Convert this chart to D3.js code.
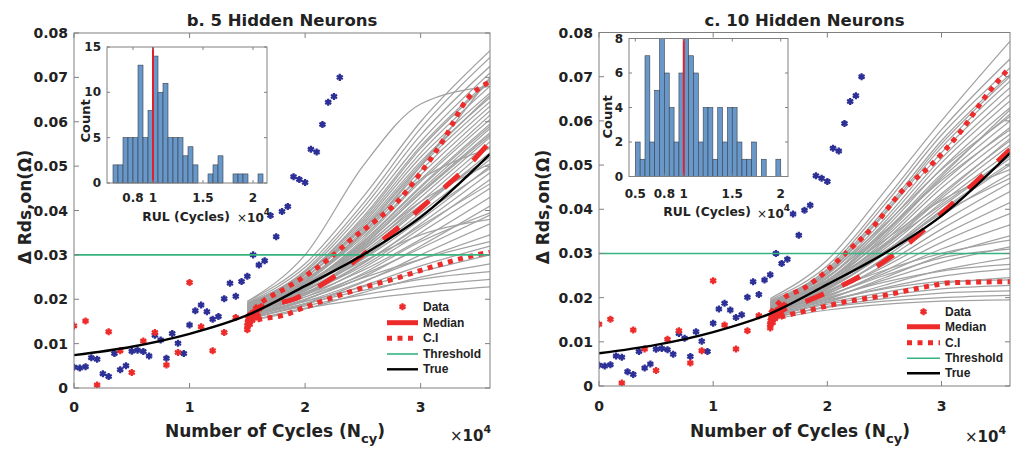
<!DOCTYPE html>
<html>
<head>
<meta charset="utf-8">
<script src="https://cdn.jsdelivr.net/npm/d3@7"></script>
<style>
  body { margin: 0; background: #fff; }
  text { font-family: "DejaVu Sans", sans-serif; font-weight: bold; fill: #222; }
  .legend text { font-family: "Liberation Sans", Arial, sans-serif; }
</style>
</head>
<body>
<div id="chart"></div>
<script>
// cycles are in units of 1e4
const xTicks = [0, 1, 2, 3];
const yTicks = [0, 0.01, 0.02, 0.03, 0.04, 0.05, 0.06, 0.07, 0.08];
const threshold = 0.03;

// blue points (not in legend)
const bluePoints = [
  [0, 0.0047], [0.05, 0.0045], [0.1, 0.0048], [0.15, 0.0068], [0.2, 0.0065], [0.25, 0.0032],
  [0.3, 0.0026], [0.35, 0.0078], [0.4, 0.0041], [0.45, 0.0050], [0.5, 0.0083], [0.55, 0.0085],
  [0.6, 0.0082], [0.65, 0.0072], [0.7, 0.0119], [0.75, 0.0108], [0.8, 0.0067], [0.85, 0.0123],
  [0.9, 0.0101], [0.95, 0.0078], [1.0, 0.0142], [1.05, 0.0174], [1.1, 0.0187], [1.15, 0.0172],
  [1.2, 0.0155], [1.25, 0.0161], [1.3, 0.0201], [1.35, 0.0236], [1.4, 0.0207], [1.45, 0.0240],
  [1.5, 0.0252], [1.55, 0.0300], [1.6, 0.0277], [1.65, 0.0287], [1.7, 0.0389], [1.75, 0.0341],
  [1.8, 0.0398], [1.85, 0.0409], [1.9, 0.0476], [1.95, 0.0470], [2.0, 0.0463], [2.05, 0.0538],
  [2.1, 0.0532], [2.15, 0.0594], [2.2, 0.0644], [2.25, 0.0657], [2.3, 0.0700]
];

// red "Data" points
const dataPoints = [
  [0, 0.0140], [0.1, 0.0151], [0.2, 0.0007], [0.3, 0.0127], [0.4, 0.0084], [0.5, 0.0035],
  [0.6, 0.0106], [0.7, 0.0125], [0.8, 0.0052], [0.9, 0.0080], [1.0, 0.0238], [1.1, 0.0138],
  [1.2, 0.0084], [1.3, 0.0125], [1.4, 0.0159],
  [1.50, 0.0131], [1.50, 0.0140], [1.505, 0.0148], [1.51, 0.0156], [1.52, 0.0143], [1.53, 0.0163],
  [1.54, 0.0152], [1.55, 0.0170], [1.56, 0.0158], [1.57, 0.0166], [1.58, 0.0174], [1.59, 0.0162],
  [1.60, 0.0178], [1.62, 0.0183]
];

const truePoints = [
  [0, 0.0074], [0.5, 0.0093], [1.0, 0.0122], [1.5, 0.0164], [2.0, 0.0230],
  [2.5, 0.0300], [3.0, 0.0385], [3.6, 0.0527]
];

// panel b (5 hidden neurons)
const median5 = [[1.5, 0.0155], [1.6, 0.0180], [1.9, 0.0200], [2.2, 0.0242], [2.5, 0.0300],
  [2.8, 0.0360], [3.1, 0.0428], [3.4, 0.0498], [3.6, 0.0555]];
const upper5 = [[1.5, 0.0160], [1.6, 0.0188], [1.8, 0.0220], [2.0, 0.0252], [2.2, 0.0290],
  [2.4, 0.0335], [2.6, 0.0375], [2.8, 0.0420], [3.0, 0.0485], [3.2, 0.0560], [3.4, 0.0650], [3.6, 0.0690]];
const lower5 = [[1.5, 0.0145], [1.6, 0.0154], [1.8, 0.0163], [2.0, 0.0182], [2.25, 0.0205],
  [2.5, 0.0226], [2.8, 0.0248], [3.1, 0.0273], [3.4, 0.0295], [3.6, 0.0306]];

// panel c (10 hidden neurons)
const median10 = [[1.5, 0.0150], [1.6, 0.0170], [1.8, 0.0190], [2.0, 0.0212], [2.3, 0.0250],
  [2.65, 0.0310], [3.0, 0.0390], [3.3, 0.0462], [3.6, 0.0535]];
const upper10 = [[1.5, 0.0165], [1.6, 0.0195], [1.8, 0.0222], [2.0, 0.0262], [2.15, 0.0298],
  [2.4, 0.0360], [2.65, 0.0440], [2.9, 0.0498], [3.15, 0.0570], [3.4, 0.0660], [3.6, 0.0722]];
const lower10 = [[1.5, 0.0148], [1.65, 0.0160], [1.85, 0.0172], [2.15, 0.0190], [2.5, 0.0205],
  [2.85, 0.0224], [3.1, 0.0234], [3.6, 0.0236]];

// grey trajectories, values at these cycles
const greyKnots = [1.5, 2.0, 2.5, 3.0, 3.6];
const grey5 = [
  [0.0150, 0.0180, 0.0200, 0.0215, 0.0228], [0.0155, 0.0185, 0.0210, 0.0230, 0.0245],
  [0.0160, 0.0190, 0.0220, 0.0245, 0.0262], [0.0150, 0.0178, 0.0215, 0.0250, 0.0280],
  [0.0165, 0.0195, 0.0228, 0.0262, 0.0300], [0.0158, 0.0188, 0.0230, 0.0275, 0.0320],
  [0.0162, 0.0195, 0.0240, 0.0290, 0.0345], [0.0155, 0.0190, 0.0238, 0.0300, 0.0370],
  [0.0168, 0.0205, 0.0255, 0.0315, 0.0390], [0.0160, 0.0200, 0.0250, 0.0320, 0.0410],
  [0.0170, 0.0210, 0.0265, 0.0335, 0.0430], [0.0165, 0.0205, 0.0270, 0.0350, 0.0450],
  [0.0172, 0.0215, 0.0275, 0.0360, 0.0470], [0.0160, 0.0210, 0.0280, 0.0370, 0.0485],
  [0.0168, 0.0220, 0.0290, 0.0380, 0.0500], [0.0175, 0.0222, 0.0295, 0.0395, 0.0515],
  [0.0165, 0.0218, 0.0300, 0.0405, 0.0530], [0.0170, 0.0225, 0.0305, 0.0410, 0.0545],
  [0.0178, 0.0230, 0.0310, 0.0420, 0.0555], [0.0172, 0.0228, 0.0315, 0.0430, 0.0565],
  [0.0168, 0.0225, 0.0320, 0.0440, 0.0575], [0.0180, 0.0235, 0.0325, 0.0445, 0.0585],
  [0.0175, 0.0232, 0.0330, 0.0455, 0.0595], [0.0170, 0.0230, 0.0335, 0.0465, 0.0605],
  [0.0182, 0.0240, 0.0340, 0.0470, 0.0615], [0.0178, 0.0238, 0.0345, 0.0480, 0.0625],
  [0.0185, 0.0245, 0.0350, 0.0490, 0.0635], [0.0175, 0.0240, 0.0355, 0.0500, 0.0645],
  [0.0185, 0.0250, 0.0365, 0.0510, 0.0655], [0.0180, 0.0248, 0.0370, 0.0520, 0.0665],
  [0.0188, 0.0255, 0.0375, 0.0530, 0.0680], [0.0182, 0.0255, 0.0385, 0.0545, 0.0695],
  [0.0190, 0.0262, 0.0395, 0.0555, 0.0710], [0.0185, 0.0265, 0.0405, 0.0570, 0.0725],
  [0.0192, 0.0272, 0.0415, 0.0585, 0.0745], [0.0195, 0.0300, 0.0500, 0.0640, 0.0680],
  [0.0188, 0.0258, 0.0360, 0.0470, 0.0540], [0.0176, 0.0232, 0.0318, 0.0420, 0.0505],
  [0.0166, 0.0212, 0.0282, 0.0365, 0.0460], [0.0158, 0.0198, 0.0258, 0.0330, 0.0395],
  [0.0180, 0.0242, 0.0348, 0.0500, 0.0700], [0.0170, 0.0220, 0.0285, 0.0345, 0.0380],
  [0.0163, 0.0200, 0.0248, 0.0290, 0.0330], [0.0195, 0.0280, 0.0430, 0.0600, 0.0760],
  [0.0172, 0.0226, 0.0312, 0.0412, 0.0520], [0.0180, 0.0236, 0.0328, 0.0452, 0.0590],
  [0.0186, 0.0250, 0.0360, 0.0505, 0.0660], [0.0168, 0.0214, 0.0292, 0.0388, 0.0495],
  [0.0176, 0.0234, 0.0322, 0.0438, 0.0570], [0.0190, 0.0258, 0.0380, 0.0540, 0.0690]
];
const grey10 = [
  [0.0150, 0.0172, 0.0185, 0.0192, 0.0195], [0.0155, 0.0178, 0.0192, 0.0200, 0.0205],
  [0.0152, 0.0180, 0.0198, 0.0210, 0.0215], [0.0160, 0.0185, 0.0205, 0.0220, 0.0228],
  [0.0158, 0.0188, 0.0212, 0.0232, 0.0245], [0.0162, 0.0192, 0.0222, 0.0248, 0.0265],
  [0.0155, 0.0190, 0.0228, 0.0262, 0.0290], [0.0165, 0.0198, 0.0240, 0.0280, 0.0315],
  [0.0160, 0.0196, 0.0245, 0.0295, 0.0340], [0.0168, 0.0205, 0.0255, 0.0310, 0.0365],
  [0.0162, 0.0202, 0.0260, 0.0325, 0.0390], [0.0170, 0.0210, 0.0270, 0.0340, 0.0415],
  [0.0165, 0.0208, 0.0275, 0.0355, 0.0440], [0.0172, 0.0215, 0.0285, 0.0370, 0.0460],
  [0.0168, 0.0212, 0.0290, 0.0385, 0.0480], [0.0175, 0.0220, 0.0298, 0.0395, 0.0500],
  [0.0170, 0.0218, 0.0302, 0.0405, 0.0515], [0.0178, 0.0225, 0.0310, 0.0415, 0.0530],
  [0.0172, 0.0222, 0.0315, 0.0425, 0.0545], [0.0180, 0.0230, 0.0322, 0.0435, 0.0555],
  [0.0175, 0.0228, 0.0328, 0.0448, 0.0570], [0.0182, 0.0235, 0.0335, 0.0458, 0.0585],
  [0.0178, 0.0232, 0.0340, 0.0470, 0.0600], [0.0185, 0.0240, 0.0348, 0.0480, 0.0615],
  [0.0180, 0.0238, 0.0355, 0.0492, 0.0630], [0.0188, 0.0245, 0.0362, 0.0505, 0.0645],
  [0.0182, 0.0245, 0.0370, 0.0515, 0.0660], [0.0190, 0.0252, 0.0378, 0.0528, 0.0675],
  [0.0185, 0.0255, 0.0388, 0.0540, 0.0690], [0.0192, 0.0262, 0.0398, 0.0555, 0.0705],
  [0.0188, 0.0265, 0.0410, 0.0568, 0.0720], [0.0195, 0.0272, 0.0420, 0.0580, 0.0740],
  [0.0198, 0.0285, 0.0440, 0.0600, 0.0780], [0.0175, 0.0215, 0.0262, 0.0300, 0.0330],
  [0.0168, 0.0200, 0.0235, 0.0260, 0.0275], [0.0185, 0.0240, 0.0330, 0.0420, 0.0490],
  [0.0178, 0.0228, 0.0305, 0.0390, 0.0470], [0.0190, 0.0255, 0.0365, 0.0490, 0.0610],
  [0.0170, 0.0205, 0.0250, 0.0290, 0.0310], [0.0180, 0.0235, 0.0320, 0.0410, 0.0520],
  [0.0186, 0.0248, 0.0350, 0.0465, 0.0580], [0.0165, 0.0195, 0.0220, 0.0236, 0.0240],
  [0.0174, 0.0222, 0.0300, 0.0398, 0.0505], [0.0183, 0.0238, 0.0345, 0.0475, 0.0625],
  [0.0177, 0.0226, 0.0318, 0.0430, 0.0560], [0.0189, 0.0258, 0.0392, 0.0548, 0.0700]
];

// RUL histograms (bin width 0.05e4)
const binWidth = 0.05;
const hist5Start = 0.60;
const hist5Counts = [2, 2, 5, 5, 5, 13, 5, 8, 14, 10, 11, 5, 5, 5, 3, 4, 2, 0, 0, 1, 2, 3, 0, 0, 1, 1, 1, 0, 0, 1];
const hist10Start = 0.50;
const hist10Counts = [2, 1, 7, 2, 5, 8, 6, 4, 2, 6, 8, 7, 6, 2, 4, 4, 1, 4, 2, 4, 4, 2, 1, 1, 2, 0, 1, 0, 0, 1];
const rulTrue = 1.0;

const legendLabels = ['Data', 'Median', 'C.I', 'Threshold', 'True'];

const RED = '#ee2b2b', BLUE = '#2b2f96', GREEN = '#35b47f', GREY = '#a2a2a2', AXIS = '#808080';

const svg = d3.select('#chart').append('svg')
    .attr('width', 1011)
    .attr('height', 452);

const marker = d3.symbol().type(d3.symbolAsterisk || d3.symbolCross).size(34);

function drawPanel(cfg) {
    const x = d3.scaleLinear().domain([0, 3.6]).range([cfg.x0, cfg.x1]);
    const y = d3.scaleLinear().domain([0, 0.08]).range([cfg.y1, cfg.y0]);

    svg.append('clipPath').attr('id', 'clip' + cfg.id).append('rect')
        .attr('x', cfg.x0).attr('y', cfg.y0)
        .attr('width', cfg.x1 - cfg.x0).attr('height', cfg.y1 - cfg.y0);

    const plot = svg.append('g').attr('clip-path', 'url(#clip' + cfg.id + ')');
    const line = d3.line().x(d => x(d[0])).y(d => y(d[1])).curve(d3.curveMonotoneX);

    // grey trajectories
    plot.selectAll('.traj').data(cfg.grey).enter().append('path')
        .attr('d', v => line(greyKnots.map((k, i) => [k, v[i]])))
        .attr('fill', 'none').attr('stroke', GREY).attr('stroke-width', 1.25);

    // points
    plot.selectAll('.blue').data(bluePoints).enter().append('path')
        .attr('d', marker)
        .attr('transform', d => 'translate(' + x(d[0]) + ',' + y(d[1]) + ')')
        .attr('fill', BLUE).attr('stroke', BLUE).attr('stroke-width', 2.3);
    plot.selectAll('.red').data(dataPoints).enter().append('path')
        .attr('d', marker)
        .attr('transform', d => 'translate(' + x(d[0]) + ',' + y(d[1]) + ')')
        .attr('fill', RED).attr('stroke', RED).attr('stroke-width', 2.3);

    // median and C.I
    plot.append('path').datum(cfg.median).attr('d', line)
        .attr('fill', 'none').attr('stroke', RED).attr('stroke-width', 5)
        .attr('stroke-dasharray', '20,20');
    [cfg.upper, cfg.lower].forEach(ci => {
        plot.append('path').datum(ci).attr('d', line)
            .attr('fill', 'none').attr('stroke', RED).attr('stroke-width', 5)
            .attr('stroke-dasharray', '5,5.5');
    });

    // threshold and true
    plot.append('line')
        .attr('x1', cfg.x0).attr('x2', cfg.x1)
        .attr('y1', y(threshold)).attr('y2', y(threshold))
        .attr('stroke', GREEN).attr('stroke-width', 1.6);
    plot.append('path').datum(truePoints).attr('d', line)
        .attr('fill', 'none').attr('stroke', '#000').attr('stroke-width', 2.4);

    // axes
    const ax = svg.append('g');
    ax.append('rect').attr('x', cfg.x0).attr('y', cfg.y0)
        .attr('width', cfg.x1 - cfg.x0).attr('height', cfg.y1 - cfg.y0)
        .attr('fill', 'none').attr('stroke', AXIS).attr('stroke-width', 1);
    ax.selectAll('.xt').data(xTicks).enter().append('path')
        .attr('d', d => 'M' + x(d) + ',' + cfg.y1 + 'v-5M' + x(d) + ',' + cfg.y0 + 'v5')
        .attr('stroke', AXIS);
    ax.selectAll('.yt').data(yTicks).enter().append('path')
        .attr('d', d => 'M' + cfg.x0 + ',' + y(d) + 'h5M' + cfg.x1 + ',' + y(d) + 'h-5')
        .attr('stroke', AXIS);
    ax.selectAll('.xl').data(xTicks).enter().append('text')
        .attr('x', d => x(d)).attr('y', cfg.xTickY)
        .attr('text-anchor', 'middle').attr('font-size', 14)
        .text(d => d);
    ax.selectAll('.yl').data(yTicks).enter().append('text')
        .attr('x', cfg.x0 - 6).attr('y', d => y(d))
        .attr('text-anchor', 'end').attr('dominant-baseline', 'central').attr('font-size', 14)
        .text(d => d === 0 ? '0' : d3.format('.2f')(d));

    // titles and labels
    svg.append('text').attr('x', (cfg.x0 + cfg.x1) / 2).attr('y', 26)
        .attr('text-anchor', 'middle').attr('font-size', 16.5).text(cfg.title);
    svg.append('text')
        .attr('transform', 'translate(' + cfg.yLabX + ',207) rotate(-90)')
        .attr('text-anchor', 'middle').attr('font-size', 17).text('Δ Rds,on(Ω)');
    const xl = svg.append('text').attr('x', cfg.xLabX).attr('y', 437)
        .attr('text-anchor', 'middle').attr('font-size', 17);
    xl.append('tspan').text('Number of Cycles (N');
    xl.append('tspan').attr('dy', 6).attr('font-size', 13).text('cy');
    xl.append('tspan').attr('dy', -6).text(')');
    const ex = svg.append('text').attr('x', cfg.expX).attr('y', cfg.expY).attr('font-size', 15);
    ex.append('tspan').attr('font-weight', 'normal').text('×');
    ex.append('tspan').text('10');
    ex.append('tspan').attr('dy', -8).attr('font-size', 11).text('4');

    // legend
    const lg = svg.append('g').attr('class', 'legend');
    legendLabels.forEach((lab, i) => {
        const ly = cfg.legY[i];
        const mx = (cfg.legX0 + cfg.legX1) / 2;
        if (i === 0) {
            lg.append('path').attr('d', marker).attr('transform', 'translate(' + mx + ',' + ly + ')')
                .attr('fill', RED).attr('stroke', RED).attr('stroke-width', 2.3);
        } else {
            const st = [null, { c: RED, w: 5, da: null }, { c: RED, w: 5, da: '5,5.5' },
                { c: GREEN, w: 1.6, da: null }, { c: '#000', w: 2.4, da: null }][i];
            lg.append('line').attr('x1', cfg.legX0).attr('x2', cfg.legX1)
                .attr('y1', ly).attr('y2', ly)
                .attr('stroke', st.c).attr('stroke-width', st.w)
                .attr('stroke-dasharray', st.da);
        }
        lg.append('text').attr('x', cfg.legX1 + 5).attr('y', ly)
            .attr('dominant-baseline', 'central').attr('font-size', 12).text(lab);
    });

    drawInset(cfg.inset);
}

function drawInset(c) {
    const x = d3.scaleLinear().domain(c.xDomain).range([c.x0, c.x1]);
    const y = d3.scaleLinear().domain([0, c.yMax]).range([c.y1, c.y0]);
    const bins = c.counts.map((n, i) => ({ n: n, lo: c.start + i * binWidth, hi: c.start + (i + 1) * binWidth }))
        .filter(b => b.n > 0);
    const g = svg.append('g');
    g.append('rect').attr('x', c.x0).attr('y', c.y0)
        .attr('width', c.x1 - c.x0).attr('height', c.y1 - c.y0)
        .attr('fill', '#fff');
    g.selectAll('.bar').data(bins).enter().append('rect')
        .attr('x', b => x(b.lo))
        .attr('width', b => x(b.hi) - x(b.lo))
        .attr('y', b => y(b.n))
        .attr('height', b => y(0) - y(b.n))
        .attr('fill', '#6798c9').attr('stroke', '#3a3f4a').attr('stroke-width', 0.6);
    g.append('line').attr('x1', x(rulTrue)).attr('x2', x(rulTrue))
        .attr('y1', c.y0).attr('y2', c.y1)
        .attr('stroke', '#e0212b').attr('stroke-width', 2);
    g.append('rect').attr('x', c.x0).attr('y', c.y0)
        .attr('width', c.x1 - c.x0).attr('height', c.y1 - c.y0)
        .attr('fill', 'none').attr('stroke', AXIS);
    g.selectAll('.ixt').data(c.xTicks).enter().append('path')
        .attr('d', d => 'M' + x(d) + ',' + c.y1 + 'v-3M' + x(d) + ',' + c.y0 + 'v3')
        .attr('stroke', AXIS);
    g.selectAll('.iyt').data(c.yTicks).enter().append('path')
        .attr('d', d => 'M' + c.x0 + ',' + y(d) + 'h3M' + c.x1 + ',' + y(d) + 'h-3')
        .attr('stroke', AXIS);
    g.selectAll('.ixl').data(c.xTicks).enter().append('text')
        .attr('x', d => x(d)).attr('y', c.xTickY)
        .attr('text-anchor', 'middle').attr('font-size', 12).text(d => d);
    g.selectAll('.iyl').data(c.yTicks).enter().append('text')
        .attr('x', c.x0 - 6).attr('y', d => y(d))
        .attr('text-anchor', 'end').attr('dominant-baseline', 'central').attr('font-size', 12).text(d => d);
    g.append('text').attr('transform', 'translate(' + c.countX + ',' + c.countY + ') rotate(-90)')
        .attr('text-anchor', 'middle').attr('font-size', 13).text('Count');
    g.append('text').attr('x', c.rulX).attr('y', c.rulY)
        .attr('text-anchor', 'middle').attr('font-size', 12.4).text('RUL (Cycles)');
    const ex = g.append('text').attr('x', c.expX).attr('y', c.expY).attr('font-size', 12);
    ex.append('tspan').attr('font-weight', 'normal').text('×');
    ex.append('tspan').text('10');
    ex.append('tspan').attr('dy', -7).attr('font-size', 9).text('4');
}

drawPanel({
    id: 'b', x0: 74, x1: 490, y0: 33, y1: 388, xTickY: 412,
    title: 'b. 5 Hidden Neurons', yLabX: 31, xLabX: 275, expX: 450, expY: 441,
    grey: grey5, median: median5, upper: upper5, lower: lower5,
    legX0: 387, legX1: 418, legY: [306.7, 322.7, 338.3, 354, 369.3],
    inset: {
        x0: 107, x1: 267, y0: 47, y1: 183, xDomain: [0.54, 2.14], yMax: 15,
        xTicks: [0.8, 1, 1.5, 2], yTicks: [0, 5, 10, 15], xTickY: 202,
        counts: hist5Counts, start: hist5Start,
        countX: 90, countY: 121, rulX: 186, rulY: 221, expX: 237, expY: 222
    }
});

drawPanel({
    id: 'c', x0: 599, x1: 1010, y0: 32.5, y1: 386, xTickY: 411,
    title: 'c. 10 Hidden Neurons', yLabX: 549, xLabX: 800, expX: 965, expY: 442,
    grey: grey10, median: median10, upper: upper10, lower: lower10,
    legX0: 907, legX1: 940, legY: [311.7, 326.7, 342.7, 358.3, 373.3],
    inset: {
        x0: 629, x1: 788, y0: 38.5, y1: 176.5, xDomain: [0.435, 2.075], yMax: 8,
        xTicks: [0.5, 0.8, 1, 1.5, 2], yTicks: [0, 2, 4, 6, 8], xTickY: 198,
        counts: hist10Counts, start: hist10Start,
        countX: 612, countY: 117, rulX: 707, rulY: 216, expX: 757, expY: 218
    }
});
</script>
</body>
</html>
